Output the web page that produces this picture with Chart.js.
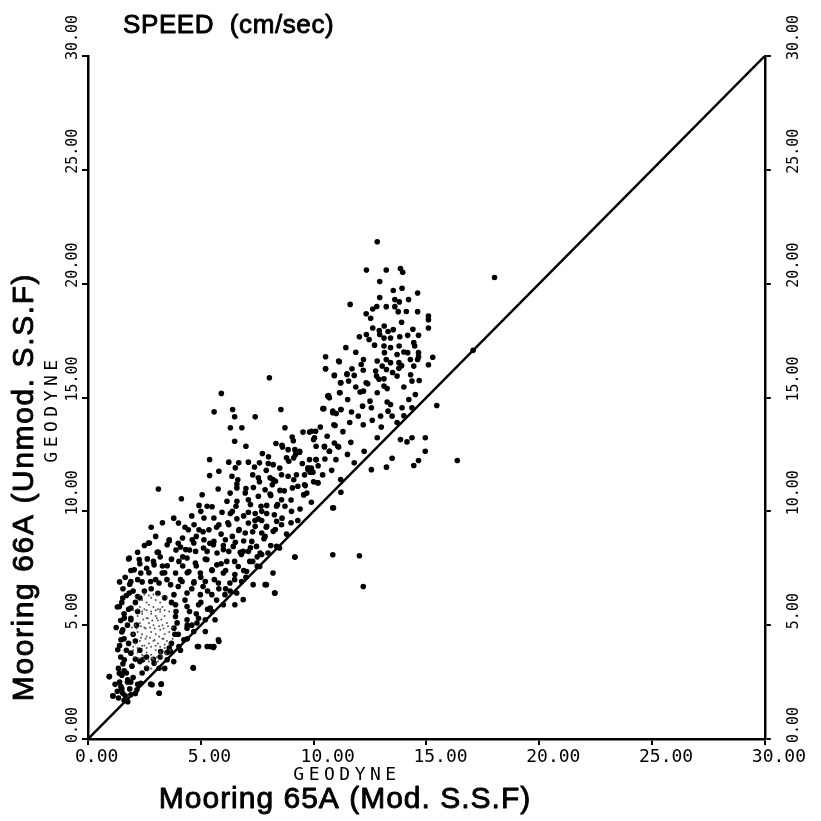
<!DOCTYPE html>
<html>
<head>
<meta charset="utf-8">
<script src="https://cdn.jsdelivr.net/npm/chart.js@4.4.1/dist/chart.umd.min.js"></script>
<style>
html,body{margin:0;padding:0;background:#fff;}
canvas{display:block;}
</style>
</head>
<body>
<canvas id="c" width="821" height="821"></canvas>
<script>
// ---- DATA (speed, cm/sec) ----
const tickValues = [0, 5, 10, 15, 20, 25, 30];
const xTitleTop = "GEODYNE";
const xTitleBottom = "Mooring 65A (Mod. S.S.F)";
const yTitleInner = "GEODYNE";
const yTitleOuter = "Mooring 66A (Unmod. S.S.F)";
const chartTitle = "SPEED  (cm/sec)";

// Mooring 65A speed (x) and Mooring 66A speed (y)
const mooring65A = [
12.82,12.34,13.22,13.85,13.95,12.93,13.53,13.92,14.61,11.62,12.93,13.6,14.21,12.62,13.22,13.6,13.75,14.11,14.61,15.09,
12.33,12.53,15.09,15.09,13.13,12.62,12.91,13.53,12.03,12.34,12.93,13.12,13.41,13.82,14.17,14.65,12.46,14.44,14.48,13.12,
13.41,13.79,11.43,11.87,13.14,13.7,14.17,14.65,10.53,14.65,15.28,12.21,12.82,13.22,13.41,13.78,14.29,14.61,11.14,12.11,
13.04,14.44,15.09,10.53,11.7,12.75,13.23,13.78,11.48,11.8,10.92,12.79,13.7,13.12,11.21,11.55,12.33,14.36,14.68,11.87,
13.12,13.26,14.0,12.21,10.66,11.15,12.06,12.82,14.51,10.7,11.51,12.5,13.26,14.22,10.41,10.85,11.21,11.68,12.17,12.56,
13.41,13.92,14.36,15.46,11.98,12.97,13.48,17.07,18.02,
16.37,14.95,14.95,14.65,14.44,14.36,14.14,13.85,13.48,13.23,12.56,11.8,12.24,11.65,12.82,10.85,11.21,
9.9,10.04,10.48,10.7,11.07,9.38,9.82,10.11,10.99,9.75,9.97,10.19,9.6,9.57,10.92,
11.11,10.53,10.92,11.48,8.04,11.19,5.91,10.63,11.17,5.59,6.41,8.55,10.45,10.85,11.21,6.5,7.41,10.95,6.31,6.82,
8.73,9.53,9.82,10.09,9.05,6.5,10.0,8.33,7.0,8.62,10.11,10.48,10.7,11.11,8.87,9.17,9.38,7.73,8.8,9.12,
5.39,6.24,6.68,7.11,7.6,7.99,8.21,10.11,6.53,7.38,9.75,9.85,5.8,5.39,6.38,6.64,7.55,8.07,8.58,8.87,
9.24,8.31,9.12,8.17,9.63,10.19,3.12,5.77,6.6,7.33,7.85,8.51,9.06,6.97,7.55,8.07,5.06,9.56,4.14,6.16,
6.6,7.11,8.58,4.92,5.28,6.56,7.67,7.92,8.36,8.73,10.88,9.02,5.94,6.31,7.11,7.41,7.92,8.26,5.14,5.58,
6.6,7.55,8.36,4.01,4.7,5.8,6.24,7.11,7.41,7.92,8.58,4.45,4.92,5.36,6.68,6.97,7.7,8.21,3.6,4.19,
4.62,5.14,5.58,6.09,6.53,7.26,7.85,8.36,3.09,4.33,4.77,5.28,5.72,6.24,6.75,7.11,7.63,10.85,9.17,
2.68,3.51,3.07,4.1,4.69,5.12,5.56,6.0,6.44,6.88,7.47,7.98,8.49,1.83,2.27,2.63,2.93,3.51,4.03,4.39,
4.76,5.27,5.71,6.15,6.66,7.17,7.61,8.2,2.05,2.34,3.29,3.88,4.47,4.98,5.49,6.0,6.51,7.03,1.9,2.78,
3.15,3.66,4.17,4.69,5.2,5.78,6.29,6.81,7.32,7.91,8.27,1.83,1.54,2.2,3.81,4.39,4.98,5.49,6.07,6.59,
6.88,1.39,1.9,3.88,4.39,4.9,5.42,6.0,6.51,1.61,1.9,3.88,4.39,4.83,5.2,5.63,3.81,4.39,4.69,5.2,
1.54,1.46,1.32,1.61,1.9,3.22,3.66,4.03,4.25,4.9,5.42,5.56,5.78,4.66,2.42,2.93,3.51,3.15,0.95,1.39,
1.76,1.46,2.34,2.78,3.25,3.15,1.1,1.54,1.9,1.76,2.17,
4.85,5.28,5.58,5.8,4.67,8.29,7.85,9.17,3.16,3.24,2.84,0.94,1.11,2.72,3.12,1.8,12.03,12.2,
1.3,1.4,1.5,1.35,1.55,1.45,1.7,1.4,1.6,1.5,1.75,1.45,1.6,1.8,1.5,1.7,1.55,1.85,1.65,1.9,
1.6,1.85,2.0,1.95,2.1,1.8,2.0,1.9,2.1,2.0,2.2,1.25,1.3,1.4,1.75,1.6,2.2,2.4,2.6,2.3,
2.5,2.8,3.1,3.4,3.7,3.9,3.95,3.85,3.7,3.5,3.2,2.9,2.6,2.3,2.1,2.15,2.2,2.3,3.0,3.5,
4.0,4.3,4.5,4.6,4.4,4.1,3.8,3.4,4.8,5.0,5.3,5.6,5.0,4.6,3.3,2.7,4.2,
3.6,4.0,4.4,4.9,5.3,5.7,6.1,6.5,6.9,7.3,7.7,8.1,5.5,6.3,7.0,7.5,9.3,9.9,8.8,
2.4,2.6,2.9,3.2,3.4,3.7,2.2,2.5,3.0,3.6,3.9,2.8,3.3,3.8,2.3,
4.2,4.5,4.8,5.1,5.4,5.7,4.3,4.6,5.0,5.5,5.9,4.1,4.4,4.8,5.2,5.5,5.9,6.0,4.0,4.7,5.1,5.8,
6.2,6.4,6.7,6.9,7.2,7.4,7.7,7.9,6.3,6.6,7.0,7.3,7.6,7.9,6.1,6.5,6.8,7.2,7.5,7.8,6.4,6.9,7.3,7.7,
8.1,8.4,8.7,9.0,9.3,9.6,9.9,8.2,8.5,8.9,9.2,9.5,8.3,8.6,9.0,9.4,9.7,10.0,10.2,10.4,8.0,8.6,9.1,
10.3,10.6,10.9,11.3,11.6,10.5,10.8,11.2,11.5,11.0,
12.2,12.6,13.0,13.3,13.7,14.0,12.4,12.9,13.5,13.9,14.3,14.0,13.3,12.7,12.2,13.9,14.4,12.8,13.8,
1.2,1.5,1.7,1.9,2.1,1.35,1.65
];
const mooring66A = [
21.84,20.6,20.6,20.66,20.5,20.09,19.7,19.8,19.59,19.09,19.39,19.3,19.3,18.89,18.99,18.99,18.77,18.78,18.77,18.58,
18.68,18.48,18.42,18.05,18.14,18.05,17.94,17.98,17.67,17.77,17.77,17.61,17.61,17.67,17.73,17.73,17.55,17.41,17.26,17.26,
17.19,17.26,17.19,16.99,16.97,16.89,16.97,16.97,16.79,16.79,16.77,16.67,16.6,16.67,16.53,16.53,16.67,16.67,16.57,16.45,
16.38,16.38,16.44,16.26,16.26,16.16,16.23,16.28,16.04,15.97,15.97,15.94,15.94,15.82,15.65,15.72,15.65,15.72,15.75,15.46,
15.5,15.39,15.46,15.28,15.09,15.21,15.24,15.21,15.13,14.99,14.91,14.84,14.8,14.91,14.51,14.4,14.47,14.36,14.62,14.55,
14.69,14.55,14.55,14.65,14.18,14.18,14.18,17.07,20.27,
12.23,13.23,12.64,12.23,12.01,13.23,13.05,13.15,12.33,11.94,11.83,12.13,12.64,13.03,13.23,10.15,10.84,
13.52,13.23,12.86,12.64,12.86,12.64,12.27,12.27,12.27,11.83,11.72,11.25,11.17,10.73,13.0,
16.6,16.26,15.97,16.01,15.87,15.65,15.18,15.06,15.21,14.37,14.47,14.47,14.51,14.33,14.47,14.15,14.15,13.77,13.67,13.67,
13.67,13.48,13.48,13.52,13.26,13.08,13.15,12.98,12.86,12.83,12.86,12.83,12.64,12.83,12.71,12.71,12.6,12.54,12.35,12.35,
12.27,12.16,12.13,12.16,12.13,12.1,12.05,12.27,11.91,11.95,11.91,11.72,11.76,11.57,11.54,11.39,11.47,11.47,11.61,11.54,
11.61,11.32,11.39,11.17,11.13,11.25,10.98,10.98,11.03,11.05,10.95,10.92,11.03,10.81,10.66,10.76,10.73,10.73,10.55,10.44,
10.44,10.51,10.51,10.26,10.22,10.22,10.22,10.26,10.22,10.22,10.15,10.0,9.96,9.9,9.96,9.9,9.9,9.85,9.71,9.71,
9.67,9.67,9.56,9.49,9.41,9.41,9.41,9.49,9.34,9.34,9.41,9.19,9.19,9.19,9.16,9.05,9.05,9.12,8.75,8.83,
8.75,8.75,8.68,8.75,8.64,8.68,8.9,8.46,8.2,8.32,8.24,8.24,8.17,8.24,8.2,8.24,8.17,8.09,7.99,
8.61,8.53,8.2,8.43,8.61,8.39,8.53,8.32,8.46,8.24,8.46,8.17,8.39,7.95,7.88,7.91,7.65,7.61,7.8,7.95,
7.73,7.88,7.65,7.8,7.58,7.8,7.58,7.29,7.43,7.29,7.29,7.29,7.36,7.29,7.43,7.29,7.22,7.36,6.92,6.92,
6.85,6.78,6.92,6.85,6.92,6.85,6.85,6.92,6.78,6.78,6.41,6.41,6.19,6.26,6.34,6.41,6.34,6.34,6.34,6.41,
6.12,5.82,5.75,5.9,5.82,5.9,5.75,5.9,5.9,5.31,5.24,5.38,5.24,5.09,5.24,5.24,4.87,4.87,4.72,4.72,
4.8,4.36,3.92,3.48,3.77,3.84,3.84,4.06,4.36,4.06,4.06,4.02,4.36,3.14,3.48,3.33,3.48,3.11,2.74,2.89,
2.6,2.3,2.45,2.41,2.41,2.01,1.9,2.01,1.94,1.64,2.16,
4.06,4.06,4.06,4.28,3.11,6.41,6.78,7.99,2.01,2.41,2.38,2.74,1.89,8.61,8.2,7.91,8.05,6.7,
2.1,2.5,2.8,3.1,3.3,3.6,3.9,4.1,4.4,4.7,5.0,5.2,5.5,5.7,6.0,6.3,6.6,6.8,7.1,7.4,
1.7,2.2,2.7,3.2,3.5,4.2,4.6,5.3,6.0,6.5,7.0,4.9,5.8,6.9,2.5,3.0,2.4,2.9,3.1,3.4,
6.5,6.6,6.4,6.2,6.0,5.6,5.1,4.6,4.2,3.8,3.6,3.5,3.6,3.9,4.3,5.0,5.6,6.2,7.0,7.0,
6.7,6.1,5.6,5.0,4.4,3.9,3.4,3.1,5.5,6.0,6.5,7.0,7.1,6.6,7.6,7.3,7.6,
4.0,4.6,5.0,5.3,5.7,6.1,6.6,7.0,7.4,7.8,8.1,8.5,5.6,6.5,7.1,7.6,9.6,10.4,9.0,
6.9,7.5,7.8,8.0,7.3,7.9,8.2,8.5,8.9,8.7,8.3,9.3,9.5,9.7,7.7,
8.0,8.3,8.9,9.1,8.6,9.3,9.3,9.8,10.0,10.2,9.0,7.0,7.3,7.6,7.9,7.4,7.7,8.5,8.6,6.9,6.7,6.6,
9.5,10.0,9.2,9.8,10.3,9.6,10.0,9.3,10.8,11.2,11.0,11.6,11.3,11.8,7.4,7.8,8.1,8.4,8.0,8.8,8.9,8.7,9.1,9.6,
10.7,10.3,10.9,10.5,11.1,11.6,11.9,11.4,11.9,12.2,12.5,12.1,9.2,9.7,9.5,10.1,10.8,11.3,12.0,11.6,12.4,12.9,13.1,
13.7,13.3,13.8,13.5,13.9,12.3,11.8,11.4,12.5,14.3,
13.8,14.0,13.7,14.4,13.9,14.2,15.6,15.8,16.1,16.4,16.0,17.0,17.9,17.3,16.2,18.3,18.0,19.0,19.2,
2.4,2.2,2.9,2.5,2.0,1.8,1.9
];

// densely overprinted core (fine grey dots)
const denseCore65A = [
2.0,2.2,2.4,2.6,2.8,3.0,3.2,3.4,2.1,2.3,2.5,2.7,2.9,3.1,3.3,3.5,2.0,2.2,2.4,2.6,
2.8,3.0,3.2,3.4,3.6,2.1,2.3,2.5,2.7,2.9,3.1,3.3,3.5,2.2,2.4,2.6,2.8,3.0,3.2,3.4,
2.3,2.5,2.7,2.9,3.1,3.3,2.4,2.6,2.8,3.0,3.2,2.5,2.7,2.9,3.1,3.3,2.6,2.8,3.0,2.35,
2.55,2.75,2.95,3.15,3.35,2.45,2.65,2.85,3.05,3.25,
2.05,2.25,2.45,2.65,2.85,3.05,3.25,3.45,3.65,
2.0,2.2,2.4,2.6,2.8,3.0,3.2,3.4,3.6,3.75,
1.95,2.15,2.35,2.55,2.75,2.95,3.15,3.35,3.55,3.75,
2.0,2.2,2.4,2.6,2.8,3.0,3.2,3.4,3.6,
2.1,2.3,2.5,2.7,2.9,3.1,3.3,3.5
];
const denseCore66A = [
3.9,3.8,3.7,3.8,3.7,3.9,3.8,4.0,4.2,4.3,4.1,4.2,4.3,4.2,4.4,4.3,4.6,4.7,4.6,4.5,
4.7,4.6,4.8,4.6,4.7,5.0,5.1,4.9,5.1,5.0,5.2,5.0,5.1,5.4,5.5,5.3,5.5,5.4,5.6,5.4,
5.8,5.7,5.9,5.8,5.7,5.8,6.1,6.0,6.2,6.1,6.0,3.5,3.4,3.5,3.4,3.6,3.2,3.1,3.3,4.45,
4.4,4.45,4.35,4.5,4.4,5.25,5.3,5.2,5.3,5.25,
3.6,3.55,3.65,3.5,3.55,3.6,3.7,3.75,3.9,
4.05,4.0,4.1,4.0,4.05,4.1,4.05,4.15,4.2,4.4,
4.9,4.85,4.95,4.85,4.9,4.85,4.95,4.85,4.95,4.9,
5.65,5.7,5.6,5.65,5.6,5.65,5.7,5.65,5.6,
6.25,6.3,6.35,6.3,6.35,6.3,6.25,6.2
];

// 1:1 reference line
const lineX = [0, 30];
const lineY = [0, 30];

// ---- build ----
const toPts = (xs, ys) => xs.map((x, i) => ({ x: x, y: ys[i] }));
const fmt = v => Number(v).toFixed(2);

// medium-weight text: fill plus a thin stroke
function heavyText(ctx, s, x, y) {
  ctx.fillText(s, x, y);
  ctx.strokeText(s, x, y);
}

const textPlugin = {
  id: 'textPlugin',
  afterDraw(chart) {
    const ctx = chart.ctx;
    ctx.save();
    ctx.fillStyle = '#000';
    ctx.strokeStyle = '#000';
    ctx.lineWidth = 0.9;
    ctx.lineJoin = 'round';
    // title
    ctx.font = '26px "Liberation Sans", Arial, sans-serif';
    ctx.letterSpacing = '0.6px';
    ctx.textAlign = 'left';
    ctx.textBaseline = 'alphabetic';
    heavyText(ctx, chartTitle, 123, 33);
    // x titles
    ctx.textAlign = 'center';
    ctx.textBaseline = 'middle';
    ctx.font = '18px "DejaVu Sans Mono", monospace';
    ctx.letterSpacing = '4.5px';
    ctx.fillText(xTitleTop, 347, 775);
    ctx.letterSpacing = '1px';
    ctx.font = '30px "Liberation Sans", Arial, sans-serif';
    heavyText(ctx, xTitleBottom, 345, 800);
    // y titles
    ctx.save();
    ctx.translate(52, 409);
    ctx.rotate(-Math.PI / 2);
    ctx.font = '18px "DejaVu Sans Mono", monospace';
    ctx.letterSpacing = '4.5px';
    ctx.fillText(yTitleInner, 0, 0);
    ctx.restore();
    ctx.save();
    ctx.translate(25, 487);
    ctx.rotate(-Math.PI / 2);
    ctx.font = '30px "Liberation Sans", Arial, sans-serif';
    ctx.letterSpacing = '1.6px';
    heavyText(ctx, yTitleOuter, 0, 0);
    ctx.restore();
    // rotated tick labels on the two vertical axes
    ctx.letterSpacing = '0px';
    ctx.font = '15px "DejaVu Sans Mono", monospace';
    ctx.textAlign = 'left';
    ctx.textBaseline = 'middle';
    [['y', 73], ['y2', 794]].forEach(([id, cx]) => {
      const sc = chart.scales[id];
      sc.ticks.forEach(t => {
        const py = sc.getPixelForValue(t.value);
        ctx.save();
        ctx.translate(cx, py + 4);
        ctx.rotate(-Math.PI / 2);
        ctx.fillText(fmt(t.value), 0, 0);
        ctx.restore();
      });
    });
    ctx.restore();
  }
};

const commonY = (pos, w) => ({
  type: 'linear',
  position: pos,
  min: tickValues[0],
  max: tickValues[tickValues.length - 1],
  afterBuildTicks: s => { s.ticks = tickValues.map(v => ({ value: v })); },
  afterFit: s => { s.width = w; },
  grid: { display: true, drawOnChartArea: false, drawTicks: true, tickLength: 6, color: '#000', lineWidth: 2 },
  border: { display: true, color: '#000', width: 2.5 },
  ticks: { display: false, callback: fmt }
});

new Chart(document.getElementById('c'), {
  type: 'scatter',
  data: {
    datasets: [
      {
        label: 'core',
        data: toPts(denseCore65A, denseCore66A),
        pointRadius: 1, pointBackgroundColor: '#555', pointBorderWidth: 0, showLine: false
      },
      {
        label: 'speed',
        data: toPts(mooring65A, mooring66A),
        pointRadius: 2.8, pointBackgroundColor: '#000', pointBorderWidth: 0, showLine: false
      },
      {
        type: 'line',
        label: '1:1',
        data: toPts(lineX, lineY),
        borderColor: '#000', borderWidth: 2.5, pointRadius: 0, fill: false, tension: 0
      }
    ]
  },
  options: {
    responsive: false,
    animation: false,
    devicePixelRatio: 1,
    layout: { padding: { top: 56, left: 0, right: 0, bottom: 0 } },
    plugins: { legend: { display: false }, tooltip: { enabled: false }, title: { display: false } },
    scales: {
      x: {
        type: 'linear',
        position: 'bottom',
        min: tickValues[0],
        max: tickValues[tickValues.length - 1],
        afterBuildTicks: s => { s.ticks = tickValues.map(v => ({ value: v })); },
        afterFit: s => { s.height = 82; },
        grid: { display: true, drawOnChartArea: false, drawTicks: true, tickLength: 6, color: '#000', lineWidth: 2 },
        border: { display: true, color: '#000', width: 2.5 },
        ticks: {
          callback: fmt, color: '#000', maxRotation: 0, minRotation: 0, align: 'start', labelOffset: -13, padding: 2,
          font: { family: '"DejaVu Sans Mono", monospace', size: 18 }
        }
      },
      y: commonY('left', 88),
      y2: commonY('right', 50)
    }
  },
  plugins: [textPlugin]
});
</script>
</body>
</html>
